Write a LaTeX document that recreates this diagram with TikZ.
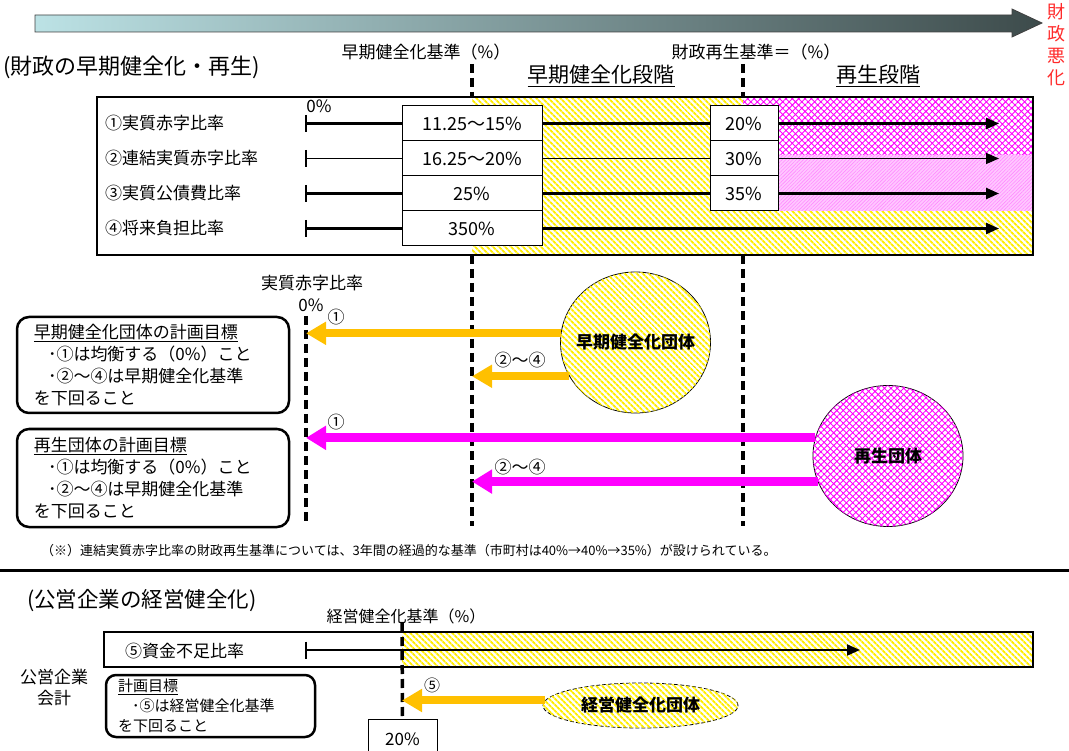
\documentclass[tikz,border=0pt]{standalone}
\usepackage{fontspec}
\setmainfont{Noto Sans CJK JP}
\usetikzlibrary{arrows.meta,patterns.meta,shapes.geometric,positioning}

\definecolor{earlyyel}{HTML}{FFC000}
\definecolor{hatchyel}{HTML}{FFEE00}
\definecolor{regenmag}{HTML}{FF00FF}
\definecolor{barleft}{HTML}{BCE2E5}
\definecolor{barright}{HTML}{3D4B4B}
\definecolor{worsered}{HTML}{FF2A2A}

\newcommand{\jpfont}[1]{\fontsize{#1}{#1}\selectfont}

\tikzset{
  yelhatch/.style={fill=white,postaction={pattern={Lines[angle=-45,distance=4pt,line width=2pt]},pattern color=hatchyel}},
  maghatch/.style={fill=white,postaction={pattern={Hatch[angle=45,distance=4.5pt,line width=0.9pt]},pattern color=regenmag}},
  magfine/.style={fill=regenmag!22,postaction={pattern={Lines[angle=45,distance=2.5pt,line width=0.6pt]},pattern color=regenmag!45}},
  valbox/.style={draw,line width=1pt,fill=white,minimum height=35pt,inner sep=0pt,font=\jpfont{18}},
  rowlabel/.style={anchor=west,inner sep=0pt,font=\jpfont{17}},
  smalltext/.style={inner sep=0pt,font=\jpfont{17}},
  rowline/.style={line width=2.4pt},
  rowarrow/.style={rowline,-{Triangle[length=13pt,width=11pt]}},
  tickmark/.style={line width=1.4pt},
  critline/.style={line width=3.5pt,dash pattern=on 9pt off 5pt},
  goalbox/.style={draw,line width=2.5pt,rounded corners=12pt,align=left,inner sep=0pt},
  earlyarrow/.style={draw=earlyyel,line width=8pt,-{Triangle[length=20pt,width=22pt]}},
  regenarrow/.style={draw=regenmag,line width=9pt,-{Triangle[length=20pt,width=23pt]}},
  groupblob/.style={draw,ellipse,line width=0.8pt,minimum width=150pt,minimum height=141pt,inner sep=0pt},
  blobtext/.style={inner sep=0pt,font=\bfseries\jpfont{17}},
}

\begin{document}
\begin{tikzpicture}[x=1pt,y=-1pt]
\useasboundingbox (0,0) rectangle (1069,751);

% worsening direction bar
\shade[left color=barleft,right color=barright,draw=black!75,line width=0.8pt]
  (35,15) -- (1012,15) -- (1012,9) -- (1042,23) -- (1012,37) -- (1012,32) -- (35,32) -- cycle;
\node[text=worsered,align=center,inner sep=0pt,font=\fontsize{18}{22}\selectfont] (worse) at (1056,45) {財\\政\\悪\\化};

% upper part: early soundness / regeneration
\node[anchor=west,inner sep=0pt,font=\jpfont{22}] (title1) at (3,67) {(財政の早期健全化・再生)};
\node[smalltext] (earlylbl) at (426,52) {早期健全化基準（\%）};
\node[smalltext] (regenlbl) at (756,52) {財政再生基準＝（\%）};
\node[inner sep=0pt,font=\jpfont{21}] (earlystage) at (601,76) {\underline{早期健全化段階}};
\node[inner sep=0pt,font=\jpfont{21}] (regenstage) at (878,76) {\underline{再生段階}};

\coordinate (fNW) at (97,97);
\coordinate (fSE) at (1033,255);
\coordinate (eTop) at (472,64);
\coordinate (eBot) at (472,526);
\coordinate (rTop) at (743,64);
\coordinate (rBot) at (743,526);
\draw[critline] (eTop) -- (eTop |- fNW);
\draw[critline] (rTop) -- (rTop |- fNW);

\fill[white] (fNW) rectangle (fSE);
\path[yelhatch] (472,97) rectangle (fSE); % early stage zone
\path[maghatch] (743,97) rectangle (1033,155); % regen zone, rows 1-2
\path[magfine] (743,155) rectangle (1033,211); % regen zone, rows 2-3
\draw[line width=2.6pt] (fNW) rectangle (fSE);

\node[rowlabel] (r1) at (105,123.5) {①実質赤字比率};
\node[rowlabel] (r2) at (105,158.5) {②連結実質赤字比率};
\node[rowlabel] (r3) at (105,193.5) {③実質公債費比率};
\node[rowlabel] (r4) at (105,228.5) {④将来負担比率};
\node[smalltext] (zero1) at (319,106) {0\%};

\node[valbox,minimum width=140pt] (v1) at (472,123.5) {11.25～15\%};
\node[valbox,minimum width=140pt] (v2) at (472,158.5) {16.25～20\%};
\node[valbox,minimum width=140pt] (v3) at (472,193.5) {25\%};
\node[valbox,minimum width=140pt] (v4) at (472,228.5) {350\%};
\node[valbox,minimum width=68pt] (w1) at (744,123.5) {20\%};
\node[valbox,minimum width=68pt] (w2) at (744,158.5) {30\%};
\node[valbox,minimum width=68pt] (w3) at (744,193.5) {35\%};

\foreach \y/\n in {123.5/1,158.5/2,193.5/3,228.5/4} {
  \coordinate (t\n) at (306,\y);
  \coordinate (a\n) at (999,\y);
  \draw[tickmark] ([yshift=8.5pt]t\n) -- ([yshift=-8.5pt]t\n);
}
\draw[rowline] (t1) -- (v1);
\draw[rowline] (v1) -- (w1);
\draw[rowarrow] (w1) -- (a1);
\draw[rowline,line width=1.3pt] (t2) -- (v2);
\draw[rowline,line width=1.3pt] (v2) -- (w2);
\draw[rowarrow,line width=1.3pt] (w2) -- (a2);
\draw[rowline] (t3) -- (v3);
\draw[rowline] (v3) -- (w3);
\draw[rowarrow] (w3) -- (a3);
\draw[rowline] (t4) -- (v4);
\draw[rowarrow] (v4) -- (a4);

\draw[critline] (eTop |- fSE) -- (eBot);
\draw[critline] (rTop |- fSE) -- (rBot);

% plan targets
\node[smalltext] (ratiolbl) at (312,283) {実質赤字比率};
\node[smalltext] (zero2) at (311,305) {0\%};
\coordinate (zTop) at (306,316);
\coordinate (zBot) at (306,523);
\draw[critline] (zTop) -- (zBot);

\node[goalbox,minimum width=272pt,minimum height=96pt,text width=238pt,font=\fontsize{17}{22}\selectfont] (goal1) at (153,365)
  {\underline{早期健全化団体の計画目標}\\\hspace*{14pt}･①は均衡する（0\%）こと\\\hspace*{14pt}･②～④は早期健全化基準\\を下回ること};
\node[goalbox,minimum width=272pt,minimum height=98pt,text width=238pt,font=\fontsize{17}{22}\selectfont] (goal2) at (153,478)
  {\underline{再生団体の計画目標}\\\hspace*{14pt}･①は均衡する（0\%）こと\\\hspace*{14pt}･②～④は早期健全化基準\\を下回ること};

\node[groupblob,yelhatch] (early) at (635.5,342.5) {};
\node[blobtext] (earlytxt) at (early) {早期健全化団体};
\node[groupblob,maghatch] (regen) at (888,456) {};
\node[blobtext] (regentxt) at (regen) {再生団体};

\draw[earlyarrow] (early.173.5) -- (early.173.5 -| zTop);
\draw[earlyarrow] (early.207.9) -- (early.207.9 -| eBot);
\draw[regenarrow] (regen.166.1) -- (regen.166.1 -| zTop);
\draw[regenarrow] (regen.200.4) -- (regen.200.4 -| eBot);
\node[smalltext] (n1a) at (336,317) {①};
\node[smalltext] (n24a) at (520,360) {②～④};
\node[smalltext] (n1b) at (336,422) {①};
\node[smalltext] (n24b) at (520,467) {②～④};

\node[anchor=west,inner sep=0pt,font=\jpfont{13}] (note) at (41,551)
  {（※）連結実質赤字比率の財政再生基準については、3年間の経過的な基準（市町村は40\%→40\%→35\%）が設けられている。};

\coordinate (ruleL) at (0,570);
\coordinate (ruleR) at (1069,570);
\draw[line width=3pt] (ruleL) -- (ruleR);

% lower part: public enterprises
\node[anchor=west,inner sep=0pt,font=\jpfont{21.5}] (title2) at (27,601) {(公営企業の経営健全化)};
\node[inner sep=0pt,font=\jpfont{16}] (mgmtlbl) at (406,616) {経営健全化基準（\%）};

\coordinate (bNW) at (104,632);
\coordinate (bSE) at (1033,667);
\fill[white] (bNW) rectangle (bSE);
\path[yelhatch] (402,632) rectangle (bSE);
\draw[line width=2.6pt] (bNW) rectangle (bSE);
\node[rowlabel] (r5) at (125,651) {⑤資金不足比率};

\node[valbox,minimum width=69pt,minimum height=40pt,font=\jpfont{17}] (v5) at (402.5,739) {20\%};
\coordinate (mTop) at (402,623);
\draw[critline] (mTop) -- (v5.north);

\coordinate (t5) at (306,650);
\coordinate (a5) at (860,650);
\draw[tickmark] ([yshift=8.5pt]t5) -- ([yshift=-8.5pt]t5);
\draw[rowarrow,line width=1.8pt] (t5) -- (a5);

\node[align=center,inner sep=0pt,font=\fontsize{17}{21}\selectfont] (acct) at (54,687.5) {公営企業\\会計};
\node[goalbox,rounded corners=10pt,minimum width=209pt,minimum height=62pt,text width=185pt,font=\fontsize{15}{20}\selectfont] (goal3) at (210.5,706)
  {\underline{計画目標}\\\hspace*{14pt}･⑤は経営健全化基準\\を下回ること};

\node[draw,ellipse,line width=0.8pt,dash pattern=on 4pt off 2pt,minimum width=195pt,minimum height=45pt,inner sep=0pt,yelhatch] (mgmt) at (640.5,705.5) {};
\node[blobtext] (mgmttxt) at (mgmt) {経営健全化団体};
\draw[earlyarrow] (mgmt.177.6) -- (mgmt.177.6 -| mTop);
\node[smalltext,font=\jpfont{16}] (n5) at (432,685) {⑤};
\end{tikzpicture}
\end{document}
